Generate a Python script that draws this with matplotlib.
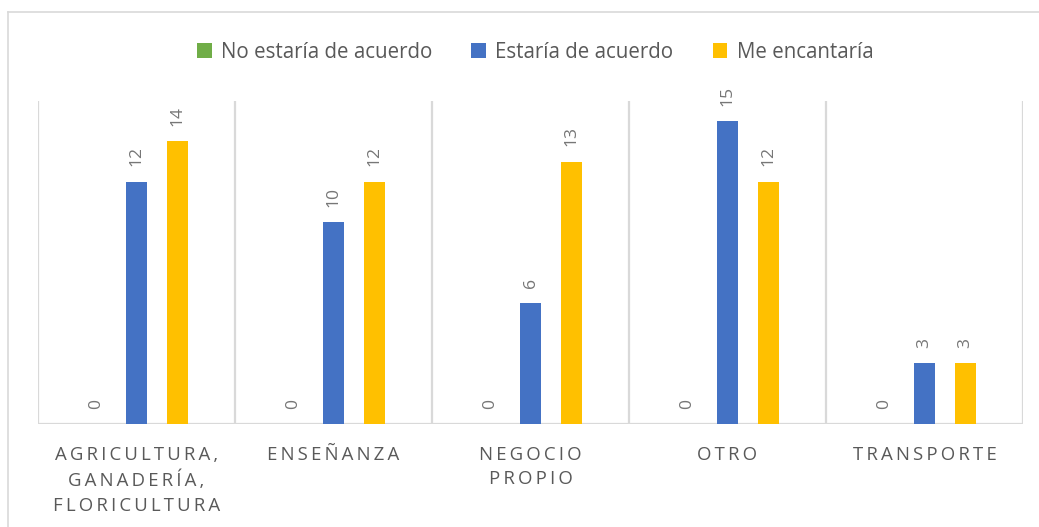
import matplotlib
matplotlib.use("Agg")
import matplotlib.pyplot as plt
from matplotlib.patches import Patch
from matplotlib.lines import Line2D
import numpy as np

categories = [
    ["AGRICULTURA,", "GANADERÍA,", "FLORICULTURA"],
    ["ENSEÑANZA"],
    ["NEGOCIO", "PROPIO"],
    ["OTRO"],
    ["TRANSPORTE"],
]
series_names = ["No estaría de acuerdo", "Estaría de acuerdo", "Me encantaría"]
no_estaria = [0, 0, 0, 0, 0]
estaria = [12, 10, 6, 15, 3]
me_encantaria = [14, 12, 13, 12, 3]

colors = ["#70AD47", "#4472C4", "#FFC000"]
text_color = "#595959"
label_color = "#767676"
grid_color = "#D9D9D9"
font = "Open Sans"

plt.rcParams["font.family"] = [font, "DejaVu Sans"]

W, H, DPI = 1039, 527, 100
fig = plt.figure(figsize=(W / DPI, H / DPI), dpi=DPI)
ax = fig.add_axes([38 / W, 1 - 424 / H, (1023 - 38) / W, (424 - 101) / H])

x = np.arange(len(categories))
bar_w = 0.107
offset = 0.206
values = [no_estaria, estaria, me_encantaria]
for k, (vals, col) in enumerate(zip(values, colors)):
    bc = ax.bar(x + (k - 1) * offset, vals, width=bar_w, color=col,
                label=series_names[k], zorder=3)
    for rect, v in zip(bc, vals):
        ax.annotate(f"{v}", (rect.get_x() + rect.get_width() / 2, v),
                    xytext=(0, 11), textcoords="offset points",
                    rotation=90, ha="center", va="bottom",
                    fontsize=12.6, color=label_color)

ax.set_xlim(-0.5, len(categories) - 0.5)
ax.set_ylim(0, 16)
for s in ax.spines.values():
    s.set_visible(False)
ax.set_yticks([])

# category separators and baseline
for b in np.arange(len(categories) + 1) - 0.5:
    ax.axvline(b, color=grid_color, lw=1.6, zorder=1)
ax.axhline(0, color=grid_color, lw=1.6, zorder=2)

# letter-spaced category labels (thin spaces between letters)
spaced = ["\n".join("\u2009".join(line) for line in lines) for lines in categories]
ax.set_xticks(x)
ax.set_xticklabels(spaced, fontsize=13.4, color=text_color, linespacing=1.46,
                   va="top")
ax.tick_params(axis="x", length=0, pad=15.5)

# legend
handles = [Patch(facecolor=c, edgecolor="none") for c in colors]
fig.legend(handles, series_names, loc="center", bbox_to_anchor=(535 / W, 1 - 52 / H),
           ncol=3, frameon=False, fontsize=14.8, labelcolor=text_color,
           handlelength=0.72, handleheight=0.72, handletextpad=0.45,
           columnspacing=1.9)

# outer chart border
fig.add_artist(Line2D([8 / W, 1], [1 - 12 / H, 1 - 12 / H], transform=fig.transFigure,
                      color=grid_color, lw=1.2))
fig.add_artist(Line2D([8 / W, 8 / W], [0, 1 - 12 / H], transform=fig.transFigure,
                      color=grid_color, lw=1.2))

fig.savefig("out.png", dpi=DPI)
